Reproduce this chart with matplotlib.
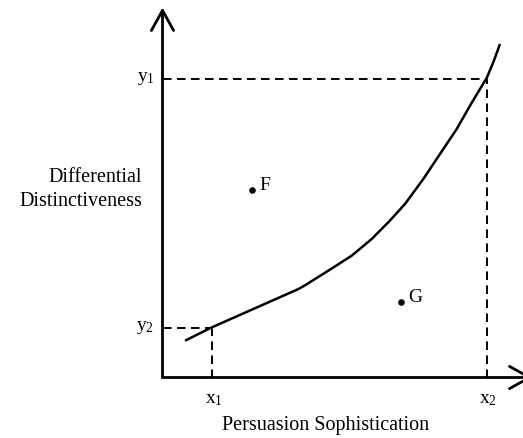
import matplotlib
matplotlib.use("Agg")
import matplotlib.pyplot as plt

plt.rcParams.update({
    "font.family": ["Liberation Serif", "DejaVu Serif"],
    "mathtext.fontset": "custom",
    "mathtext.rm": "Liberation Serif",
    "mathtext.it": "Liberation Serif:italic",
})

## Données du schéma (unités arbitraires, origine au croisement des axes)
curve_x = [0.225, 0.49, 1.36, 1.425, 1.658, 1.892, 2.092, 2.258, 2.425, 2.608,
           2.775, 2.942, 3.075, 3.175, 3.242, 3.308, 3.375]
curve_y = [0.368, 0.50, 0.885, 0.922, 1.068, 1.218, 1.385, 1.552, 1.735, 1.985,
           2.235, 2.485, 2.718, 2.885, 2.995, 3.152, 3.335]

x_marks = [0.49, 3.24]
x_labels = [r"$\mathregular{x_1}$", r"$\mathregular{x_2}$"]
y_marks = [2.99, 0.50]
y_labels = [r"$\mathregular{y_1}$", r"$\mathregular{y_2}$"]

points_x = [0.892, 2.382]
points_y = [1.878, 0.758]
points_lbl = ["F", "G"]

axis_len = 3.70

fig = plt.figure(figsize=(5.23, 4.39), dpi=100)
ax = fig.add_axes([0, 0, 1, 1])
ax.set_xlim(-1.625, 3.605)
ax.set_ylim(-0.605, 3.785)
ax.axis("off")

# axes avec flèches ouvertes
arrow = dict(arrowstyle="->,head_length=1.45,head_width=0.8", lw=2, color="black",
             shrinkA=0, shrinkB=0, mutation_scale=10)
ax.annotate("", xy=(0, axis_len), xytext=(0, 0), arrowprops=arrow, annotation_clip=False)
ax.annotate("", xy=(axis_len, 0), xytext=(0, 0), arrowprops=arrow, annotation_clip=False)

# lignes pointillées de repère
dash = (0, (4.4, 2.8))
ax.plot([0, x_marks[1]], [y_marks[0], y_marks[0]], color="black", lw=1.4, linestyle=dash)
ax.plot([x_marks[1], x_marks[1]], [0, y_marks[0]], color="black", lw=1.4, linestyle=dash)
ax.plot([0, x_marks[0]], [y_marks[1], y_marks[1]], color="black", lw=1.4, linestyle=dash)
ax.plot([x_marks[0], x_marks[0]], [0, y_marks[1]], color="black", lw=1.4, linestyle=dash)

# courbe
ax.plot(curve_x, curve_y, color="black", lw=1.8, solid_capstyle="butt",
        solid_joinstyle="round")

# points F et G
ax.scatter(points_x, points_y, s=14, color="black", zorder=3)
for px, py, lbl in zip(points_x, points_y, points_lbl):
    ax.annotate(lbl, xy=(px, py), xytext=(5.5, 3.5), textcoords="offset points",
                ha="left", va="center", fontsize=14)

# étiquettes des repères
for xm, lbl in zip(x_marks, x_labels):
    ax.text(xm + 0.02, -0.215, lbl, ha="center", va="center", fontsize=14)
for ym, lbl in zip(y_marks, y_labels):
    ax.text(-0.08, ym + 0.01, lbl, ha="right", va="center", fontsize=14)

# titres des axes
ax.text(1.635, -0.475, "Persuasion Sophistication", ha="center", va="center", fontsize=14.5)
ax.text(-0.205, 1.89, "Differential\nDistinctiveness", ha="right", va="center",
        multialignment="right", fontsize=14.5, linespacing=1.3)

fig.savefig("out.png", dpi=100)
